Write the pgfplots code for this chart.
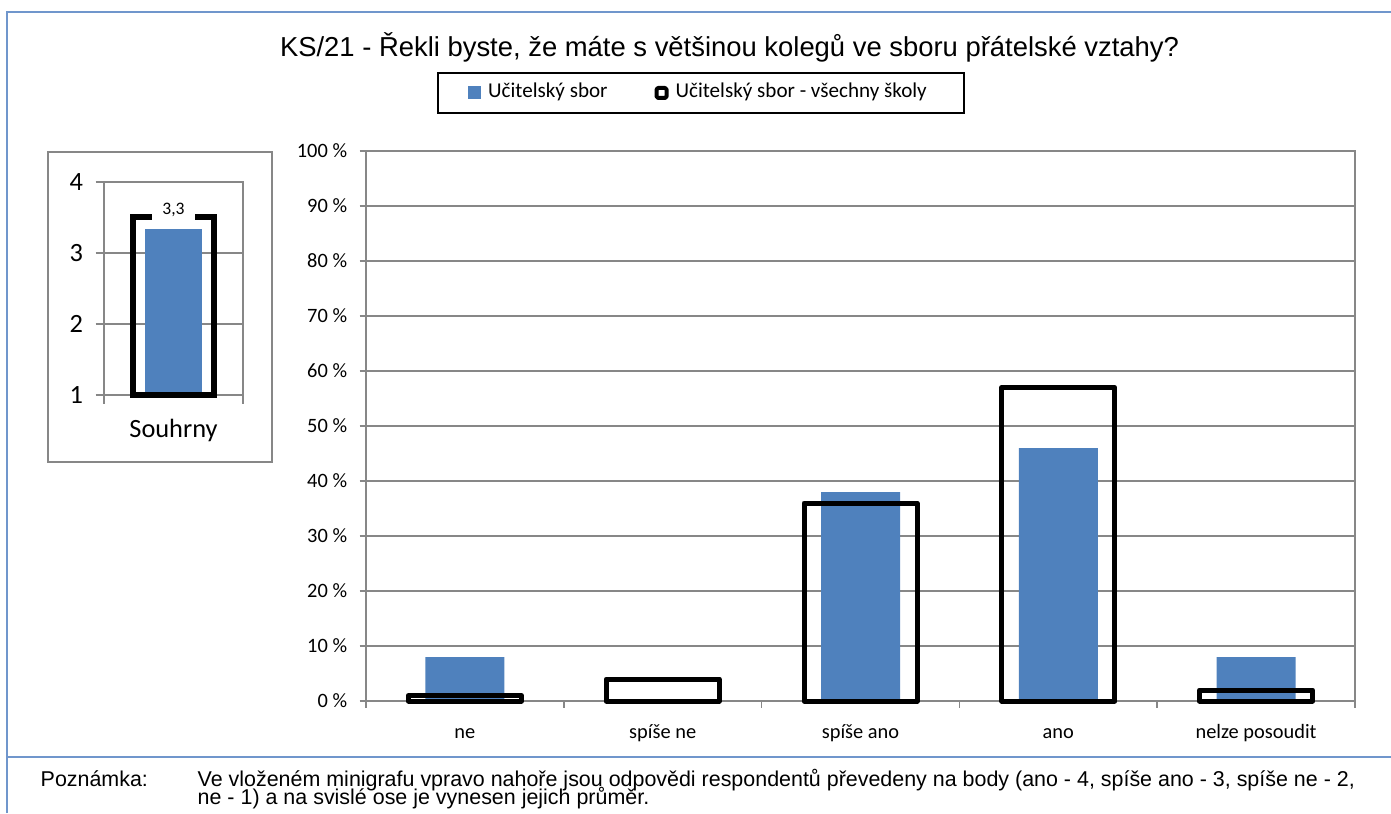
\documentclass[border=0pt]{standalone}
\usepackage{fontspec}
\setmainfont{Liberation Sans}
\newfontfamily\calibri{Carlito}
\usepackage{pgfplots}
\pgfplotsset{compat=1.18}
\definecolor{barblue}{HTML}{4F81BD}
\definecolor{gridgray}{HTML}{878787}
\definecolor{frameblue}{HTML}{7096CC}

\begin{document}
\begin{tikzpicture}[x=0.1mm,y=0.1mm]
\useasboundingbox (0,0) rectangle (1391,813);
% outer frame and separator
\draw[frameblue, line width=0.2mm] (7,0) -- (7,801) -- (1391,801);
\draw[frameblue, line width=0.2mm] (7,56) -- (1391,56);
\node[anchor=base, font=\fontsize{7.8}{9}\selectfont, inner sep=0pt] at (729.5,756)
  {KS/21 - Řekli byste, že máte s většinou kolegů ve sboru přátelské vztahy?};
% mini chart frame
\draw[gridgray, line width=0.15mm] (48,351) rectangle (272,661);

\begin{axis}[
    at={(10.4mm,41.8mm)}, anchor=south west,
    scale only axis, width=13.9mm, height=21.3mm,
    xmin=-0.5, xmax=0.5, ymin=1, ymax=4,
    y coord trafo/.code={\pgfmathparse{#1-1}},
    y coord inv trafo/.code={\pgfmathparse{#1+1}},
    ytick={1,2,3,4}, yticklabels={1,2,3,4},
    xtick={-0.5,0.5}, x tick label as interval, xticklabels={Souhrny},
    tick pos=left, tick align=outside, major tick length=0.85mm,
    axis line style={gridgray, line width=0.15mm},
    tick style={gridgray, line width=0.15mm},
    ymajorgrids, grid style={gridgray, line width=0.15mm},
    ticklabel style={font=\calibri\fontsize{7.5}{9}\selectfont},
    xticklabel style={yshift=-0.3mm},
    clip=false,
]
\addplot[ybar, bar width=5.7mm, bar shift=0pt, fill=barblue, draw=none]
    coordinates {(0,3.34)};
\addplot[ybar, bar width=8.1mm, bar shift=0pt, draw=black, fill=none, line width=0.55mm,
    nodes near coords={{3,3}},
    every node near coord/.append style={anchor=center, yshift=0.7mm, fill=white,
        inner xsep=1mm, inner ysep=0.45mm, text=black, line width=0pt,
        font=\calibri\fontsize{5}{6}\selectfont}]
    coordinates {(0,3.51)};
\end{axis}

\begin{axis}[
    at={(36.6mm,11.2mm)}, anchor=south west,
    scale only axis, width=98.9mm, height=55mm,
    xmin=-0.5, xmax=4.5, ymin=0, ymax=100,
    xtick={-0.5,0.5,...,4.5}, x tick label as interval,
    xticklabels={ne, spíše ne, spíše ano, ano, nelze posoudit},
    ytick={0,10,...,100},
    yticklabel={\pgfmathprintnumber[assume math mode=true]{\tick}~\%},
    tick pos=left, tick align=outside, major tick length=0.65mm,
    axis line style={gridgray, line width=0.15mm},
    tick style={gridgray, line width=0.15mm},
    ymajorgrids, grid style={gridgray, line width=0.15mm},
    ticklabel style={font=\calibri\fontsize{5.8}{7}\selectfont},
    xticklabel style={text height=1.6ex, text depth=0.4ex, yshift=1.1mm},
    clip=false,
    legend columns=2, legend cell align=left,
    legend style={at={(0.3387,1.1055)}, anchor=center, draw=black, line width=0.2mm,
        font=\calibri\fontsize{6}{7}\selectfont, inner xsep=3mm, inner ysep=0.3mm,
        /tikz/every even column/.append style={column sep=4mm}},
]
\addplot[ybar, bar width=7.9mm, bar shift=0pt, fill=barblue, draw=none,
    legend image code/.code={\fill[barblue] (0mm,-0.65mm) rectangle (1.3mm,0.65mm);}]
    coordinates {(0,8) (1,0) (2,38) (3,46) (4,8)};
\addlegendentry{Učitelský sbor}
\addplot[ybar, bar width=11.3mm, bar shift=0pt, draw=black, fill=none, line width=0.5mm,
    line join=round,
    legend image code/.code={\draw[black, line width=0.4mm, rounded corners=0.15mm]
        (0.2mm,-0.5mm) rectangle (1.2mm,0.5mm);}]
    coordinates {(0,1) (1,4) (2,36) (3,57) (4,2)};
\addlegendentry{Učitelský sbor - všechny školy}
\end{axis}

% note under the chart
\node[anchor=base west, font=\fontsize{6.1}{7}\selectfont, inner sep=0pt] at (40,27) {Poznámka:};
\node[anchor=base west, font=\fontsize{6.1}{7}\selectfont, inner sep=0pt] at (197,27)
  {Ve vloženém minigrafu vpravo nahoře jsou odpovědi respondentů převedeny na body (ano - 4, spíše ano - 3, spíše ne - 2,};
\node[anchor=base west, font=\fontsize{6.1}{7}\selectfont, inner sep=0pt] at (197,9)
  {ne - 1) a na svislé ose je vynesen jejich průměr.};
\end{tikzpicture}
\end{document}
